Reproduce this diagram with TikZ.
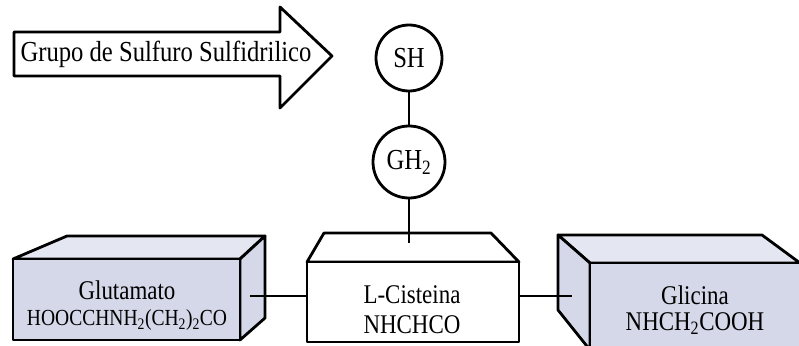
\documentclass[tikz,border=0pt]{standalone}
\usepackage{fontspec}
\setmainfont{Liberation Serif}
\newfontfamily\narrowfont[FakeStretch=0.85]{Liberation Serif}
\definecolor{boxblue}{RGB}{212,216,232}
\definecolor{boxtop}{RGB}{228,230,242}

\begin{document}
\begin{tikzpicture}[x=1pt, y=-1pt,
    edge/.style={draw=black, line width=2.8pt, line join=round},
    ring/.style={circle, draw=black, line width=2.8pt, fill=white, inner sep=0pt,
      font=\narrowfont\fontsize{29}{30}\selectfont},
    front/.style={rectangle, edge, inner sep=0pt},
    boxlabel/.style={align=center, font=\narrowfont\fontsize{27}{29}\selectfont}]
  \clip (0,0) rectangle (799,345);
  \fill[white] (0,0) rectangle (799,345);

  % big arrow
  \draw[edge, fill=white] (14,32) -- (280,32) -- (280,7) -- (332,56)
    -- (280,108) -- (280,76) -- (14,76) -- cycle;
  \node[font=\narrowfont\fontsize{29}{30}\selectfont] (grupo) at (166,54)
    {Grupo de Sulfuro Sulfidrilico};

  % Glutamato box
  \filldraw[edge, fill=boxtop] (13,259) -- (67,236) -- (265,236) -- (240,259) -- cycle;
  \filldraw[edge, fill=boxblue] (240,259) -- (265,236) -- (265,318) -- (240,340) -- cycle;
  \node[front, fill=boxblue, minimum width=227pt, minimum height=81pt] (glu) at (126.5,299.5) {};
  \node[boxlabel] (glu-txt) at (127,306)
    {Glutamato\\[-3pt]{\fontsize{23}{25}\selectfont HOOCCHNH\textsubscript{2}(CH\textsubscript{2})\textsubscript{2}CO}};

  % L-Cisteina box
  \filldraw[edge, fill=white] (307,262) -- (324,233) -- (491,233) -- (519,262) -- cycle;
  \node[front, fill=white, minimum width=212pt, minimum height=80pt] (cis) at (413,302) {};
  \node[boxlabel] (cis-txt) at (412,310) {L-Cisteina\\[1pt]NHCHCO};

  % Glicina box
  \filldraw[edge, fill=boxtop] (558,235) -- (762,235) -- (800,263) -- (590,263) -- cycle;
  \filldraw[edge, fill=boxblue] (558,235) -- (590,263) -- (590,350) -- (558,310) -- cycle;
  \node[front, fill=boxblue, minimum width=215pt, minimum height=87pt] (gly) at (697.5,306.5) {};
  \node[boxlabel] (gly-txt) at (695,310) {Glicina\\[-3pt]NHCH\textsubscript{2}COOH};

  % groups
  \node[ring, minimum size=66pt] (sh) at (409,58) {SH};
  \node[ring, minimum size=72pt] (gh) at (409,162) {GH\textsubscript{2}};

  \coordinate (glu-in) at (250,296);
  \coordinate (gly-in) at (572,296);
  \coordinate (cis-in) at (409,243);
  \draw[edge] (sh) -- (gh);
  \draw[edge] (gh) -- (cis-in);
  \draw[edge] (glu-in) -- (glu-in -| cis.west);
  \draw[edge] (gly-in -| cis.east) -- (gly-in);
\end{tikzpicture}
\end{document}
